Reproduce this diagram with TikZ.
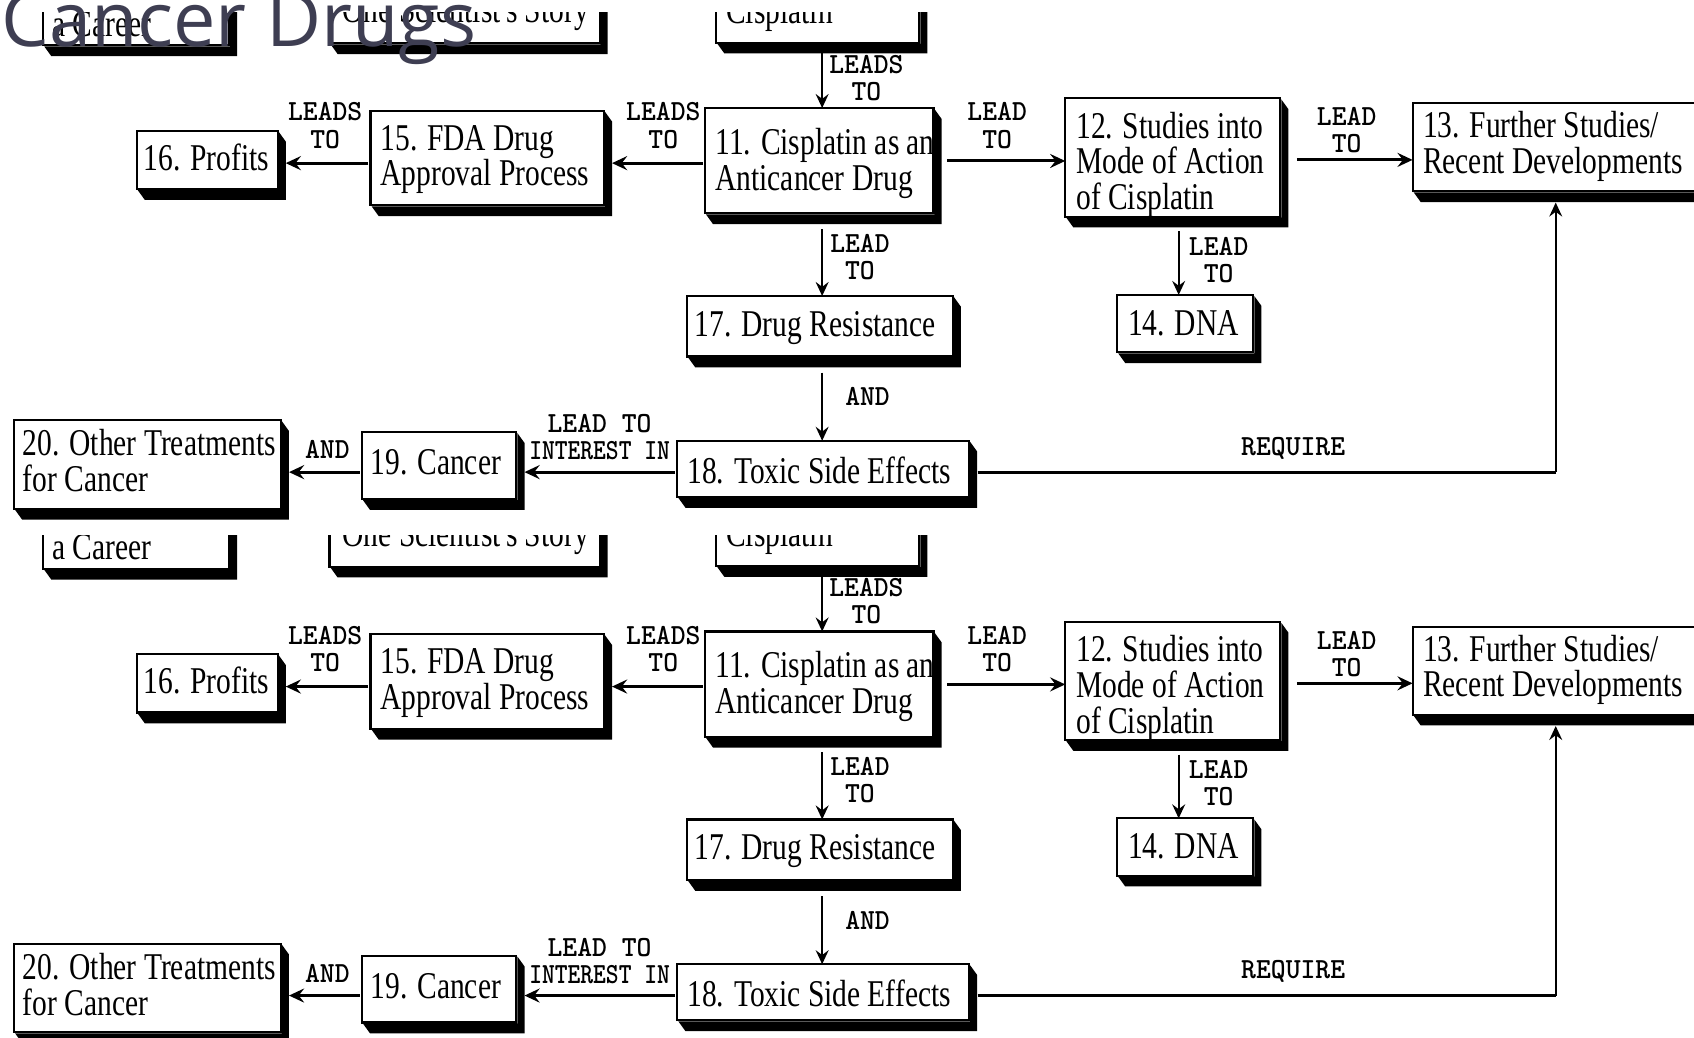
\documentclass[tikz,border=0pt]{standalone}
\usepackage{fontspec}
\usepackage{graphicx}
\usetikzlibrary{arrows.meta,calc}
\newfontfamily\boxfont[FakeStretch=0.78]{Liberation Serif}
\newfontfamily\titlefont{Open Sans}
\newfontfamily\lblfont[FakeStretch=0.97]{lmmonolt10-bold.otf}
\definecolor{titlecol}{RGB}{62,62,82}

\newcommand\ltwo[2]{\vtop{\lineskiplimit=-\maxdimen\halign{##\hfil\cr#1\cr#2\cr}}}
\newcommand\lthree[3]{\vtop{\lineskiplimit=-\maxdimen\halign{##\hfil\cr#1\cr#2\cr#3\cr}}}
\newcommand\ctwo[2]{\vtop{\lineskiplimit=-\maxdimen\halign{\hfil##\hfil\cr#1\cr#2\cr}}}

\tikzset{
  boxst/.style={draw, fill=white, line width=2pt, inner sep=0pt, outer sep=0pt, rectangle},
  btext/.style={font=\boxfont\fontsize{35}{33}\selectfont, inner sep=0pt, anchor=base west},
  lbl/.style={font=\lblfont\fontsize{27}{25}\selectfont, inner sep=0pt, anchor=base},
  harr/.style={line width=2.8pt, -{Stealth[length=14pt,width=13pt,inset=5pt]}},
  varr/.style={line width=1.6pt, -{Stealth[length=13pt,width=12pt,inset=4.5pt]}},
  hline/.style={line width=2.8pt},
}

% box: name, left, top, right, bottom
\newcommand\bx[5]{\node[boxst, minimum width={#4-#2}, minimum height={#5-#3}] (#1) at ({(#2+#4)/2},{(#3+#5)/2}) {};}
% border redraw + 3D shadow
\newcommand\fin[1]{%
  \draw[line width=2pt] (#1.north west) rectangle (#1.south east);
  \fill ($(#1.north east)+(1,1)$) -- ($(#1.north east)+(7.5,10)$) -- ($(#1.south east)+(7.5,10)$)
     -- ($(#1.south west)+(7.5,10)$) -- ($(#1.south west)+(1,1)$) -- ($(#1.south east)+(1,1)$) -- cycle;}

\newcommand\chart[1]{%
  % partial boxes of the row above
  \bx{#1-car}{40}{-20}{212}{42}
  \node[btext] (#1-cart) at (48,33.5) {a Career};
  \fin{#1-car}
  \bx{#1-sci}{305}{-20}{555}{40}
  \node[btext] (#1-scit) at (317,21) {One Scientist's Story};
  \fin{#1-sci}
  \bx{#1-cis}{663}{-20}{851}{39.5}
  \node[btext] (#1-cist) at (672,21.5) {Cisplatin};
  \fin{#1-cis}
  % main boxes
  \bx{#1-11}{652.5}{100}{864}{197.5}
  \node[btext] (#1-11t) at (662,143) {\ltwo{11. Cisplatin as an}{Anticancer Drug}};
  \fin{#1-11}
  \bx{#1-15}{343}{102.5}{559}{190}
  \node[btext] (#1-15t) at (352,139) {\ltwo{15. FDA Drug}{Approval Process}};
  \fin{#1-15}
  \bx{#1-16}{126.5}{121}{257}{175}
  \node[btext] (#1-16t) at (133,157.5) {16. Profits};
  \fin{#1-16}
  \bx{#1-12}{986}{91}{1185}{200.5}
  \node[btext] (#1-12t) at (996,128) {\lthree{12. Studies into}{Mode of Action}{of Cisplatin}};
  \fin{#1-12}
  \bx{#1-13}{1307.5}{95.5}{1640}{177}
  \node[btext] (#1-13t) at (1317,127.5) {\ltwo{13. Further Studies/}{Recent Developments}};
  \fin{#1-13}
  \bx{#1-17}{636}{274}{882}{330}
  \node[btext] (#1-17t) at (643,311.5) {17. Drug Resistance};
  \fin{#1-17}
  \bx{#1-14}{1034}{273}{1160}{326}
  \node[btext] (#1-14t) at (1044,310.5) {14. DNA};
  \fin{#1-14}
  \bx{#1-18}{627}{408}{897}{460}
  \node[btext] (#1-18t) at (636,447.5) {18. Toxic Side Effects};
  \fin{#1-18}
  \bx{#1-19}{335}{400}{478}{462}
  \node[btext] (#1-19t) at (343,439.5) {19. Cancer};
  \fin{#1-19}
  \bx{#1-20}{13}{389}{260}{471}
  \node[btext] (#1-20t) at (21,422) {\ltwo{20. Other Treatments}{for Cancer}};
  \fin{#1-20}
  % connectors
  \draw[varr] ($(#1-cis.south west)+(98,10)$) -- ($(#1-11.north)+(2.75,0)$);
  \draw[harr] ($(#1-11.west)+(-2,2.25)$) -- ($(#1-15.east)+(7.5,4.75)$);
  \draw[harr] ($(#1-15.west)+(-2,4.75)$) -- ($(#1-16.east)+(7.5,3)$);
  \draw[harr] ($(#1-11.east)+(13,0.25)$) -- ($(#1-12.west)+(0,3.25)$);
  \draw[harr] ($(#1-12.east)+(15.5,2.25)$) -- ($(#1-13.west)+(0,11.75)$);
  \draw[varr] ($(#1-11.south)+(2.75,14.5)$) -- ($(#1-17.north)+(2,0)$);
  \draw[varr] ($(#1-12.south)+(5.5,13.5)$) -- ($(#1-14.north)+(-6,0)$);
  \draw[varr] ($(#1-17.south)+(2,15)$) -- ($(#1-18.north)+(-1,0)$);
  \coordinate (#1-18out) at ($(#1-18.east)+(8,3)$);
  \coordinate (#1-13in) at ($(#1-13.south west)+(132.5,10.5)$);
  \draw[hline] (#1-18out) -- (#1-18out -| #1-13in);
  \draw[varr] (#1-18out -| #1-13in) -- (#1-13in);
  \draw[harr] ($(#1-18.west)+(-2,3)$) -- ($(#1-19.east)+(7.5,6)$);
  \draw[harr] ($(#1-19.west)+(-2,6)$) -- ($(#1-20.east)+(7.5,7)$);
  % connector labels
  \node[lbl] (#1-l1) at (802,68) {\ctwo{LEADS}{TO}};
  \node[lbl] (#1-l2) at (614,112) {\ctwo{LEADS}{TO}};
  \node[lbl] (#1-l3) at (301,112) {\ctwo{LEADS}{TO}};
  \node[lbl] (#1-l4) at (923,112) {\ctwo{LEAD}{TO}};
  \node[lbl] (#1-l5) at (1246.5,116.5) {\ctwo{LEAD}{TO}};
  \node[lbl] (#1-l6) at (796,233.5) {\ctwo{LEAD}{TO}};
  \node[lbl] (#1-l7) at (1128,236.5) {\ctwo{LEAD}{TO}};
  \node[lbl] (#1-l8) at (803,375.5) {AND};
  \node[lbl] (#1-l9) at (1197,421.5) {REQUIRE};
  \node[lbl] (#1-l10) at (555,400.5) {\ctwo{LEAD TO}{\scalebox{0.86}[1]{INTEREST IN}}};
  \node[lbl] (#1-l11) at (303,424.5) {AND};
}

\begin{document}
\begin{tikzpicture}[x=1pt,y=-1pt]
  \useasboundingbox (0,0) rectangle (1568,960);
  \fill[white] (0,0) rectangle (1568,960);
  \clip (0,0) rectangle (1568,960);
  \begin{scope}
    \clip (-5,11.5) rectangle (1600,496);
    \chart{T}
  \end{scope}
  \begin{scope}[shift={(0,484.5)}]
    \clip (-5,11.5) rectangle (1600,500);
    \chart{B}
  \end{scope}
  \node[anchor=base west, inner sep=0pt, font=\titlefont\fontsize{70}{70}\selectfont, text=titlecol] (title) at (1,43) {Cancer Drugs};
\end{tikzpicture}
\end{document}
